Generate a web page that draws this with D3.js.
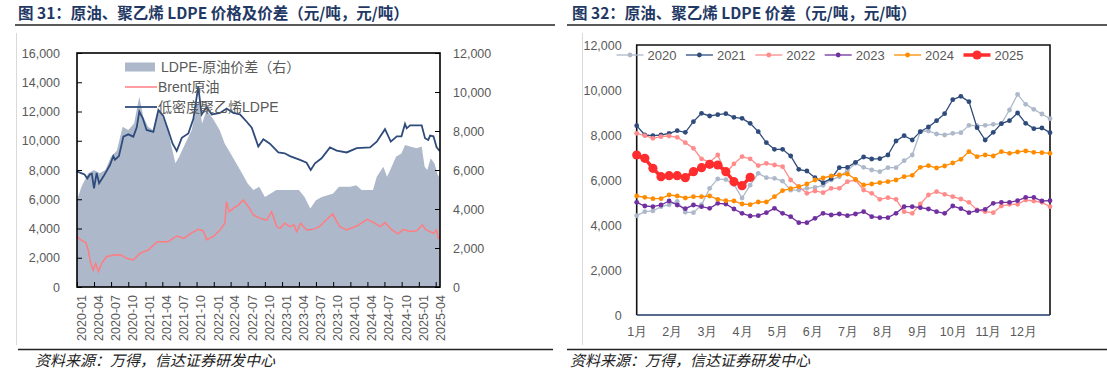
<!DOCTYPE html>
<html>
<head>
<meta charset="utf-8">
<script src="https://cdn.jsdelivr.net/npm/d3@7"></script>
<style>
  body { margin: 0; background: #fff; }
  svg { display: block; font-family: "Liberation Sans", "Noto Sans CJK SC", sans-serif; }
  .title { font-family: "Noto Sans CJK SC"; font-weight: bold; font-size: 15.5px; fill: #1f3864; }
  .note { font-family: "Noto Sans CJK SC"; font-style: italic; font-size: 15px; fill: #222; }
  .tick text { fill: #595959; }
  .legend text { fill: #595959; }
</style>
</head>
<body>
<svg id="chart" width="1107" height="376"></svg>
<script>
// ---- left chart: daily-ish series (yuan/ton)
let ldpe = [["2020-01-01",7900],["2020-01-20",7800],["2020-02-10",7700],["2020-02-25",7430],["2020-03-10",7700],
  ["2020-03-20",7750],["2020-04-01",6750],["2020-04-15",7800],["2020-04-28",7100],["2020-05-21",7550],
  ["2020-06-25",8340],["2020-07-13",8950],["2020-07-22",8700],["2020-08-12",8950],["2020-09-05",10280],
  ["2020-10-01",10440],["2020-10-28",10280],["2020-11-15",10900],["2020-11-29",12000],["2020-12-17",11550],
  ["2021-01-07",10740],["2021-02-12",10600],["2021-03-11",12100],["2021-04-06",11700],["2021-05-03",10700],
  ["2021-05-26",9800],["2021-06-17",9300],["2021-07-14",10200],["2021-08-18",10500],["2021-09-14",11500],
  ["2021-10-10",13700],["2021-10-28",11800],["2021-11-24",12300],["2021-12-21",11800],["2022-02-03",11900],
  ["2022-03-11",12200],["2022-04-15",11900],["2022-05-21",11800],["2022-06-26",11300],["2022-07-23",10900],
  ["2022-08-27",9600],["2022-09-23",10100],["2022-10-28",9800],["2022-12-12",9200],["2023-01-15",9140],
  ["2023-02-12",8950],["2023-04-07",8690],["2023-05-12",8500],["2023-06-03",8000],["2023-06-26",8460],
  ["2023-07-31",8800],["2023-09-14",9550],["2023-10-20",9330],["2023-12-12",9200],["2024-02-04",9500],
  ["2024-04-15",9550],["2024-05-21",9940],["2024-07-04",10790],["2024-08-04",9940],["2024-09-05",10300],
  ["2024-09-30",10300],["2024-10-19",11150],["2024-10-28",10850],["2024-11-15",11050],["2025-01-16",11050],
  ["2025-02-03",10170],["2025-02-20",10050],["2025-03-02",10350],["2025-03-20",10300],["2025-04-06",9550],
  ["2025-04-22",9300]]

let brent = [["2020-01-01",3450],["2020-01-20",3240],["2020-02-18",3030],["2020-03-01",2530],["2020-03-14",1620],
  ["2020-03-28",1160],["2020-04-10",1620],["2020-04-25",1050],["2020-05-12",1620],["2020-06-07",2070],
  ["2020-07-13",2180],["2020-08-20",2200],["2020-09-22",1960],["2020-10-28",1850],["2020-12-03",2300],
  ["2021-01-15",2530],["2021-03-06",3100],["2021-05-01",3100],["2021-06-17",3490],["2021-07-25",3330],
  ["2021-09-01",3670],["2021-10-10",3940],["2021-11-05",3850],["2021-11-24",3240],["2022-01-01",3470],
  ["2022-02-03",3900],["2022-03-01",4360],["2022-03-10",5830],["2022-03-25",5150],["2022-04-15",5380],
  ["2022-05-12",5600],["2022-06-08",5950],["2022-07-05",5490],["2022-08-01",4920],["2022-09-06",4690],
  ["2022-10-11",4580],["2022-11-06",5150],["2022-12-03",4130],["2022-12-21",4010],["2023-01-15",4360],
  ["2023-02-12",4130],["2023-03-05",4250],["2023-03-20",3790],["2023-04-10",4360],["2023-05-12",3900],
  ["2023-06-15",3940],["2023-07-20",4130],["2023-08-25",4580],["2023-09-28",4990],["2023-11-05",4130],
  ["2023-12-12",3900],["2024-02-04",4170],["2024-03-30",4630],["2024-04-25",4470],["2024-06-10",4130],
  ["2024-07-04",4400],["2024-08-10",3900],["2024-09-12",3630],["2024-10-10",3940],["2024-11-15",3790],
  ["2024-12-20",3850],["2025-01-20",4250],["2025-02-05",3940],["2025-03-20",3670],["2025-04-05",3900],
  ["2025-04-15",3330],["2025-04-22",3450]]

// LDPE minus crude spread, right axis
let spread = [["2020-01-01",4460],["2020-01-25",5140],["2020-03-01",5830],["2020-04-01",6000],["2020-05-01",5830],
  ["2020-06-01",6000],["2020-07-01",6680],["2020-08-01",7000],["2020-09-01",8220],["2020-10-01",8050],
  ["2020-11-01",8390],["2020-11-29",9760],["2020-12-20",8730],["2021-01-15",8220],["2021-02-10",8050],
  ["2021-03-11",9160],["2021-03-25",8900],["2021-05-01",8050],["2021-05-25",7000],["2021-06-10",6340],
  ["2021-06-30",6680],["2021-08-01",7350],["2021-09-05",8050],["2021-10-01",9260],["2021-10-15",9590],
  ["2021-10-30",8390],["2021-11-24",9080],["2022-01-01",8560],["2022-02-01",8050],["2022-03-01",7350],
  ["2022-04-01",6850],["2022-05-01",6340],["2022-06-01",5830],["2022-07-01",5310],["2022-08-01",4970],
  ["2022-09-01",5140],["2022-10-01",4620],["2022-11-01",4790],["2022-12-01",4970],["2023-02-01",4970],
  ["2023-04-01",4970],["2023-05-01",4620],["2023-06-01",4030],["2023-07-01",4450],["2023-08-01",4620],
  ["2023-09-01",4700],["2023-10-01",4790],["2023-11-01",5140],["2024-01-01",5140],["2024-02-01",5220],
  ["2024-03-01",4970],["2024-05-01",4970],["2024-05-21",5650],["2024-06-25",6170],["2024-07-15",5650],
  ["2024-08-01",6000],["2024-09-01",6680],["2024-09-30",6850],["2024-10-19",7280],["2024-11-15",7200],
  ["2024-12-20",7110],["2025-01-16",7200],["2025-02-01",6170],["2025-02-15",6000],["2025-03-05",6600],
  ["2025-03-25",6340],["2025-04-15",5650],["2025-04-24",5900]]

let leftTicks = [0, 2000, 4000, 6000, 8000, 10000, 12000, 14000, 16000]
let rightTicks = [0, 2000, 4000, 6000, 8000, 10000, 12000]
let leftLegend = ["LDPE-原油价差（右）", "Brent原油", "低密度聚乙烯LDPE"]

// ---- right chart: weekly spread by year
let years = ["2020", "2021", "2022", "2023", "2024", "2025"]
let s2020 = [4416,4594,4624,4816,4900,5050,4570,4550,4900,5630,6050,6020,5800,5200,5770,6296,6104,6075,5950,5550,
  5556,5630,5675,5764,6000,6150,6416,6741,6564,6445,6371,6549,6549,6860,7112,8148,8178,8045,8000,8075,
  8104,8430,8415,8430,8474,8504,9111,9807,9363,9141,8933,8726]
let s2021 = [8415,8000,7970,8000,8075,8193,8120,8593,8963,8845,8904,8948,8785,8740,8519,8148,7660,7363,7363,7067,
  6475,6400,6104,5882,6060,6549,6564,6786,7023,6934,6949,7112,7734,7971,7778,8148,8356,8637,8948,9570,
  9718,9481,8326,7778,8119,8504,8637,8978,8519,8282,8311,8104]
let s2022 = [8074,7971,7852,7926,7956,7897,7660,7408,6940,6790,7112,6300,6720,7040,6940,6640,6741,6667,6593,6000,
  5704,5408,5512,5438,5630,5630,5926,6000,5555,5407,5141,5215,5141,4593,4519,4933,5333,5481,5363,5259,
  5155,5007,4667,4593,4548,4844,4919,4919,5111,5067,5007,4815]
let s2023 = [5007,4844,4815,4889,5067,4889,4726,4889,4815,4741,4963,4933,4711,4519,4400,4415,4548,4741,4519,4370,
  4104,4104,4296,4519,4445,4489,4415,4489,4593,4370,4326,4326,4519,4815,4815,4770,4711,4593,4519,4844,
  4726,4548,4637,4696,4963,5007,5007,5082,5230,5230,5067,5082]
let s2024 = [5289,5230,5170,5170,5333,5289,5200,5259,5259,5289,5141,5082,5067,4933,4904,5022,5022,5259,5526,5615,
  5704,5822,6000,6089,6178,6223,6267,6030,5778,5822,5881,5926,6000,6149,6208,6564,6638,6534,6623,6756,
  6919,7260,7038,7112,7067,7260,7186,7245,7290,7230,7216,7186]
let s2025 = [7112,6963,6519,6149,6193,6193,6104,6371,6549,6697,6667,6371,5927,5749,6120]
let months = ["1月","2月","3月","4月","5月","6月","7月","8月","9月","10月","11月","12月"]
let weeksPerYear = 52

let colors = {"2020": "#adb9ca", "2021": "#2f4b7c", "2022": "#ff8b8b", "2023": "#7030a0", "2024": "#ff8c00", "2025": "#ff2d2d"}

let parse = d3.timeParse("%Y-%m-%d")
let svg = d3.select("#chart")

function frame() {
  // titles, rules and source notes for both panels
  svg.append("text").attr("class", "title").attr("x", 18).attr("y", 19)
    .text("图 31：原油、聚乙烯 LDPE 价格及价差（元/吨，元/吨）")
  svg.append("text").attr("class", "title").attr("x", 572).attr("y", 19)
    .text("图 32：原油、聚乙烯 LDPE 价差（元/吨，元/吨）")
  let rules = [[15, 555, 25], [567, 1107, 25], [18, 553, 349.5], [567, 1107, 349.5]]
  svg.selectAll(".rule").data(rules).enter().append("line")
    .attr("class", "rule")
    .attr("x1", d => d[0]).attr("x2", d => d[1]).attr("y1", d => d[2]).attr("y2", d => d[2])
    .attr("stroke", "#222").attr("stroke-width", 1.3)
  ;[16.5, 582.5].forEach(x => {
    svg.append("line").attr("x1", x).attr("x2", x).attr("y1", 33).attr("y2", 345)
      .attr("stroke", "#d9d9d9").attr("stroke-width", 1)
  })
  svg.append("text").attr("class", "note").attr("x", 35).attr("y", 366).text("资料来源：万得，信达证券研发中心")
  svg.append("text").attr("class", "note").attr("x", 570).attr("y", 366).text("资料来源：万得，信达证券研发中心")
}

function leftChart() {
  let m = {left: 77, right: 440, top: 53, bottom: 287}
  let x = d3.scaleTime().domain([parse("2020-01-01"), parse("2025-04-24")]).range([m.left, m.right])
  let y1 = d3.scaleLinear().domain([0, 16000]).range([m.bottom, m.top])
  let y2 = d3.scaleLinear().domain([0, 12000]).range([m.bottom, m.top])
  let g = svg.append("g")

  g.append("path").datum(spread)
    .attr("fill", "#adb9ca")
    .attr("d", d3.area().x(d => x(parse(d[0]))).y0(m.bottom).y1(d => y2(d[1])))

  let line = d3.line().x(d => x(parse(d[0]))).y(d => y1(d[1]))
  g.append("path").datum(brent).attr("fill", "none").attr("stroke", "#ff7c80").attr("stroke-width", 1.5).attr("d", line)
  g.append("path").datum(ldpe).attr("fill", "none").attr("stroke", "#2f4b7c").attr("stroke-width", 1.8).attr("d", line)

  let yl = g.append("g").attr("transform", `translate(${m.left},0)`)
    .call(d3.axisLeft(y1).tickValues(leftTicks).tickFormat(d3.format(",")).tickSize(-5).tickPadding(17))
  let yr = g.append("g").attr("transform", `translate(${m.right},0)`)
    .call(d3.axisRight(y2).tickValues(rightTicks).tickFormat(d3.format(",")).tickSize(-5).tickPadding(13))
  let xb = g.append("g").attr("transform", `translate(0,${m.bottom})`)
    .call(d3.axisBottom(x).ticks(d3.timeMonth.every(3)).tickFormat(d3.timeFormat("%Y-%m")).tickSize(-5))
  ;[yl, yr, xb].forEach(a => {
    a.select(".domain").remove()
    a.selectAll("line").attr("stroke", "#000")
    a.selectAll("text").attr("font-size", 12.5).attr("font-family", "Liberation Sans")
  })
  xb.selectAll("text")
    .attr("transform", "rotate(-90)")
    .attr("text-anchor", "end")
    .attr("x", -8).attr("y", 4).attr("dy", "0.35em")

  g.append("rect")
    .attr("x", m.left).attr("y", m.top).attr("width", m.right - m.left).attr("height", m.bottom - m.top)
    .attr("fill", "none").attr("stroke", "#000").attr("stroke-width", 1.6)

  // legend
  let lg = g.append("g").attr("class", "legend")
  let ly = [67, 87, 107]
  lg.append("rect").attr("x", 125).attr("y", ly[0] - 4.5).attr("width", 30).attr("height", 9).attr("fill", "#adb9ca")
  lg.append("line").attr("x1", 125).attr("x2", 157).attr("y1", ly[1]).attr("y2", ly[1]).attr("stroke", "#ff7c80").attr("stroke-width", 1.5)
  lg.append("line").attr("x1", 125).attr("x2", 157).attr("y1", ly[2]).attr("y2", ly[2]).attr("stroke", "#2f4b7c").attr("stroke-width", 1.8)
  lg.selectAll("text").data(leftLegend).enter().append("text")
    .attr("x", (d, i) => i == 0 ? 161 : 158)
    .attr("y", (d, i) => ly[i]).attr("dy", "0.35em")
    .attr("font-size", 14)
    .text(d => d)
}

function rightChart() {
  let m = {left: 636.7, right: 1050, top: 45, bottom: 315}
  let series = [s2020, s2021, s2022, s2023, s2024, s2025]
  let x = d3.scaleLinear().domain([0, weeksPerYear - 1]).range([m.left, m.right])
  let y = d3.scaleLinear().domain([0, 12000]).range([m.bottom, m.top])
  let g = svg.append("g")

  let ya = g.append("g").attr("transform", `translate(${m.left},0)`)
    .call(d3.axisLeft(y).tickValues(rightTicks).tickFormat(d3.format(",")).tickSize(0).tickPadding(15))
  let xa = g.append("g").attr("transform", `translate(0,${m.bottom})`)
    .call(d3.axisBottom(x).tickValues(months.map((d, i) => i * weeksPerYear / 12))
      .tickFormat((d, i) => months[i]).tickSize(0).tickPadding(12))
  ;[ya, xa].forEach(a => {
    a.select(".domain").remove()
    a.selectAll("text").attr("font-size", 12.5)
  })

  // plot border
  g.append("path").attr("fill", "none").attr("stroke", "#111").attr("stroke-width", 1.6)
    .attr("d", `M${m.left},${m.bottom}V${m.top}H${m.right}V${m.bottom}`)
  g.append("line").attr("x1", m.left).attr("x2", m.right).attr("y1", m.bottom).attr("y2", m.bottom)
    .attr("stroke", "#1f3864").attr("stroke-width", 1.6)

  let line = d3.line().x((d, i) => x(i)).y(d => y(d))
  years.forEach((yr, k) => {
    let big = yr == "2025"
    let s = g.append("g")
    s.append("path").datum(series[k]).attr("fill", "none")
      .attr("stroke", colors[yr]).attr("stroke-width", big ? 3.5 : 1.3).attr("d", line)
    s.selectAll("circle").data(series[k]).enter().append("circle")
      .attr("cx", (d, i) => x(i)).attr("cy", d => y(d)).attr("r", big ? 4.6 : 2.4)
      .attr("fill", colors[yr])
  })

  // legend
  let lg = g.append("g").attr("class", "legend")
  let item = lg.selectAll("g").data(years).enter().append("g")
    .attr("transform", (d, i) => `translate(${616.5 + i * 69.4},55)`)
  item.append("line").attr("x1", 0).attr("x2", 27)
    .attr("stroke", d => colors[d]).attr("stroke-width", d => d == "2025" ? 3.5 : 1.3)
  item.append("circle").attr("cx", 13.5).attr("r", d => d == "2025" ? 4.6 : 2.4).attr("fill", d => colors[d])
  item.append("text").attr("x", 31).attr("dy", "0.35em").attr("font-size", 13).text(d => d)
}

frame()
leftChart()
rightChart()
</script>
</body>
</html>
